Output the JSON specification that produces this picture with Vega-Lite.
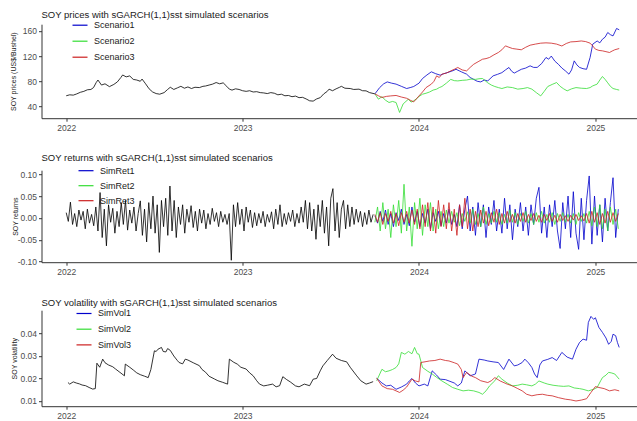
{
"$schema":"https://vega.github.io/schema/vega-lite/v6.json",
"padding":{"left":8.5,"top":9.2,"right":0,"bottom":5},
"background":"white",
"config":{"view":{"stroke":null},"font":"Liberation Sans",
"axis":{"grid":false,"domainColor":"#333333","tickColor":"#333333","tickSize":3,"labelColor":"#4d4d4d","labelFontSize":8.5,"labelPadding":2,"titleFontSize":7,"titleFontWeight":"normal","titleColor":"#1a1a1a","labelOverlap":false},
"title":{"fontSize":9.5,"fontWeight":"normal","anchor":"start","frame":"group","color":"#1a1a1a"},
"legend":{"orient":"none","title":null,"symbolType":"stroke","symbolSize":225,"symbolStrokeWidth":1.2,"labelFontSize":9,"labelColor":"#1a1a1a","labelOffset":5.5,"padding":0}},
"datasets":{
"ph":[{"t":2022.0,"v":57},{"t":2022.02,"v":58.5},{"t":2022.04,"v":58},{"t":2022.06,"v":60},{"t":2022.08,"v":62.5},{"t":2022.1,"v":64},{"t":2022.12,"v":66.5},{"t":2022.14,"v":67},{"t":2022.155,"v":70},{"t":2022.17,"v":78},{"t":2022.18,"v":82},{"t":2022.2,"v":74},{"t":2022.22,"v":76},{"t":2022.245,"v":71.5},{"t":2022.27,"v":75},{"t":2022.29,"v":79},{"t":2022.31,"v":86},{"t":2022.32,"v":90},{"t":2022.34,"v":87},{"t":2022.36,"v":88.5},{"t":2022.38,"v":83},{"t":2022.4,"v":82},{"t":2022.42,"v":80},{"t":2022.43,"v":83.5},{"t":2022.45,"v":76},{"t":2022.47,"v":68},{"t":2022.49,"v":63},{"t":2022.51,"v":60.5},{"t":2022.53,"v":59.5},{"t":2022.555,"v":62},{"t":2022.575,"v":67},{"t":2022.59,"v":70.5},{"t":2022.61,"v":67},{"t":2022.63,"v":69.5},{"t":2022.65,"v":72},{"t":2022.67,"v":69},{"t":2022.69,"v":71},{"t":2022.71,"v":68.5},{"t":2022.73,"v":70.5},{"t":2022.755,"v":70},{"t":2022.775,"v":72},{"t":2022.79,"v":72.5},{"t":2022.81,"v":74},{"t":2022.83,"v":75.5},{"t":2022.85,"v":78},{"t":2022.87,"v":76},{"t":2022.89,"v":77.5},{"t":2022.91,"v":72},{"t":2022.925,"v":67.5},{"t":2022.94,"v":66},{"t":2022.96,"v":68},{"t":2022.98,"v":67},{"t":2023.0,"v":65},{"t":2023.02,"v":64},{"t":2023.04,"v":65},{"t":2023.06,"v":63},{"t":2023.08,"v":63.5},{"t":2023.1,"v":62},{"t":2023.12,"v":61.5},{"t":2023.14,"v":60.5},{"t":2023.16,"v":62},{"t":2023.18,"v":61},{"t":2023.2,"v":58.5},{"t":2023.22,"v":59.5},{"t":2023.24,"v":57},{"t":2023.26,"v":57.5},{"t":2023.28,"v":55.5},{"t":2023.3,"v":56.5},{"t":2023.32,"v":54},{"t":2023.34,"v":54.5},{"t":2023.36,"v":52},{"t":2023.38,"v":49},{"t":2023.4,"v":48.5},{"t":2023.42,"v":52},{"t":2023.44,"v":54},{"t":2023.46,"v":60},{"t":2023.48,"v":64},{"t":2023.49,"v":67.5},{"t":2023.51,"v":65},{"t":2023.53,"v":68},{"t":2023.55,"v":70.5},{"t":2023.56,"v":72},{"t":2023.58,"v":69},{"t":2023.61,"v":68.5},{"t":2023.63,"v":67},{"t":2023.66,"v":67.5},{"t":2023.68,"v":65},{"t":2023.7,"v":64.8},{"t":2023.72,"v":62},{"t":2023.75,"v":60}],
"ps":[{"s":1,"t":2023.75,"v":60},{"s":1,"t":2023.777,"v":70},{"s":1,"t":2023.8,"v":76},{"s":1,"t":2023.82,"v":79},{"s":1,"t":2023.845,"v":77},{"s":1,"t":2023.87,"v":75.5},{"s":1,"t":2023.9,"v":72},{"s":1,"t":2023.93,"v":68.5},{"s":1,"t":2023.95,"v":70},{"s":1,"t":2023.97,"v":71.7},{"s":1,"t":2024.0,"v":77},{"s":1,"t":2024.02,"v":84.4},{"s":1,"t":2024.045,"v":90},{"s":1,"t":2024.07,"v":95},{"s":1,"t":2024.095,"v":92},{"s":1,"t":2024.12,"v":89.7},{"s":1,"t":2024.14,"v":92},{"s":1,"t":2024.16,"v":93.7},{"s":1,"t":2024.185,"v":96},{"s":1,"t":2024.21,"v":99},{"s":1,"t":2024.24,"v":95},{"s":1,"t":2024.27,"v":91.3},{"s":1,"t":2024.29,"v":86},{"s":1,"t":2024.31,"v":83},{"s":1,"t":2024.33,"v":80},{"s":1,"t":2024.35,"v":79},{"s":1,"t":2024.37,"v":82},{"s":1,"t":2024.39,"v":80.6},{"s":1,"t":2024.42,"v":88.6},{"s":1,"t":2024.445,"v":91},{"s":1,"t":2024.47,"v":93.7},{"s":1,"t":2024.49,"v":98},{"s":1,"t":2024.51,"v":101.9},{"s":1,"t":2024.525,"v":96},{"s":1,"t":2024.54,"v":93},{"s":1,"t":2024.56,"v":96},{"s":1,"t":2024.58,"v":99},{"s":1,"t":2024.605,"v":101},{"s":1,"t":2024.63,"v":104.5},{"s":1,"t":2024.65,"v":102},{"s":1,"t":2024.67,"v":102},{"s":1,"t":2024.695,"v":108},{"s":1,"t":2024.72,"v":117.8},{"s":1,"t":2024.735,"v":115},{"s":1,"t":2024.75,"v":120},{"s":1,"t":2024.77,"v":112},{"s":1,"t":2024.79,"v":107},{"s":1,"t":2024.81,"v":101},{"s":1,"t":2024.83,"v":96.5},{"s":1,"t":2024.85,"v":91.3},{"s":1,"t":2024.865,"v":98},{"s":1,"t":2024.88,"v":112.4},{"s":1,"t":2024.895,"v":106},{"s":1,"t":2024.91,"v":102},{"s":1,"t":2024.93,"v":100},{"s":1,"t":2024.95,"v":99},{"s":1,"t":2024.97,"v":117.8},{"s":1,"t":2024.985,"v":138.9},{"s":1,"t":2025.01,"v":144},{"s":1,"t":2025.025,"v":141},{"s":1,"t":2025.04,"v":146.8},{"s":1,"t":2025.055,"v":150},{"s":1,"t":2025.07,"v":157.4},{"s":1,"t":2025.085,"v":154},{"s":1,"t":2025.1,"v":152},{"s":1,"t":2025.12,"v":163.8},{"s":1,"t":2025.135,"v":161.7},
{"s":2,"t":2023.75,"v":60},{"s":2,"t":2023.77,"v":51.6},{"s":2,"t":2023.79,"v":55.5},{"s":2,"t":2023.81,"v":50},{"s":2,"t":2023.83,"v":46.3},{"s":2,"t":2023.85,"v":48},{"s":2,"t":2023.87,"v":46.3},{"s":2,"t":2023.89,"v":30.5},{"s":2,"t":2023.91,"v":44},{"s":2,"t":2023.94,"v":51.6},{"s":2,"t":2023.955,"v":47},{"s":2,"t":2023.97,"v":49},{"s":2,"t":2023.99,"v":52.9},{"s":2,"t":2024.0,"v":56},{"s":2,"t":2024.02,"v":59.5},{"s":2,"t":2024.04,"v":61},{"s":2,"t":2024.06,"v":63},{"s":2,"t":2024.08,"v":66},{"s":2,"t":2024.1,"v":67.5},{"s":2,"t":2024.115,"v":70},{"s":2,"t":2024.13,"v":71.7},{"s":2,"t":2024.155,"v":77},{"s":2,"t":2024.18,"v":83},{"s":2,"t":2024.2,"v":81},{"s":2,"t":2024.22,"v":80.6},{"s":2,"t":2024.245,"v":81.5},{"s":2,"t":2024.27,"v":82},{"s":2,"t":2024.295,"v":83.5},{"s":2,"t":2024.32,"v":83},{"s":2,"t":2024.34,"v":84},{"s":2,"t":2024.36,"v":84.4},{"s":2,"t":2024.375,"v":81},{"s":2,"t":2024.39,"v":77.5},{"s":2,"t":2024.41,"v":74},{"s":2,"t":2024.43,"v":71.7},{"s":2,"t":2024.45,"v":70},{"s":2,"t":2024.47,"v":68.5},{"s":2,"t":2024.5,"v":71},{"s":2,"t":2024.53,"v":70},{"s":2,"t":2024.56,"v":67.5},{"s":2,"t":2024.59,"v":68.5},{"s":2,"t":2024.615,"v":70},{"s":2,"t":2024.64,"v":67.5},{"s":2,"t":2024.665,"v":62},{"s":2,"t":2024.69,"v":56.8},{"s":2,"t":2024.71,"v":64},{"s":2,"t":2024.73,"v":71.7},{"s":2,"t":2024.755,"v":75},{"s":2,"t":2024.78,"v":78},{"s":2,"t":2024.8,"v":72},{"s":2,"t":2024.82,"v":68},{"s":2,"t":2024.84,"v":64.8},{"s":2,"t":2024.865,"v":68},{"s":2,"t":2024.89,"v":70},{"s":2,"t":2024.92,"v":69},{"s":2,"t":2024.95,"v":68.5},{"s":2,"t":2024.97,"v":70},{"s":2,"t":2024.985,"v":72.7},{"s":2,"t":2025.01,"v":75.5},{"s":2,"t":2025.025,"v":82},{"s":2,"t":2025.04,"v":87.6},{"s":2,"t":2025.055,"v":83},{"s":2,"t":2025.07,"v":77.5},{"s":2,"t":2025.085,"v":72},{"s":2,"t":2025.1,"v":68.5},{"s":2,"t":2025.12,"v":67},{"s":2,"t":2025.135,"v":66},
{"s":3,"t":2023.75,"v":60},{"s":3,"t":2023.77,"v":57},{"s":3,"t":2023.79,"v":54.3},{"s":3,"t":2023.815,"v":56},{"s":3,"t":2023.84,"v":56.8},{"s":3,"t":2023.87,"v":57.5},{"s":3,"t":2023.9,"v":55},{"s":3,"t":2023.93,"v":53},{"s":3,"t":2023.95,"v":50},{"s":3,"t":2023.97,"v":47.3},{"s":3,"t":2023.985,"v":52},{"s":3,"t":2024.0,"v":56.8},{"s":3,"t":2024.02,"v":63},{"s":3,"t":2024.04,"v":70},{"s":3,"t":2024.07,"v":75.5},{"s":3,"t":2024.085,"v":80},{"s":3,"t":2024.1,"v":88.6},{"s":3,"t":2024.115,"v":86},{"s":3,"t":2024.13,"v":91.3},{"s":3,"t":2024.155,"v":93},{"s":3,"t":2024.18,"v":96.5},{"s":3,"t":2024.2,"v":99},{"s":3,"t":2024.22,"v":101.9},{"s":3,"t":2024.245,"v":98},{"s":3,"t":2024.27,"v":96.5},{"s":3,"t":2024.29,"v":102},{"s":3,"t":2024.31,"v":107},{"s":3,"t":2024.335,"v":111},{"s":3,"t":2024.36,"v":115},{"s":3,"t":2024.38,"v":116},{"s":3,"t":2024.4,"v":117.8},{"s":3,"t":2024.425,"v":122},{"s":3,"t":2024.45,"v":125.7},{"s":3,"t":2024.47,"v":130},{"s":3,"t":2024.49,"v":136.2},{"s":3,"t":2024.51,"v":134},{"s":3,"t":2024.53,"v":132},{"s":3,"t":2024.555,"v":131},{"s":3,"t":2024.58,"v":130},{"s":3,"t":2024.605,"v":134},{"s":3,"t":2024.63,"v":137.3},{"s":3,"t":2024.66,"v":139},{"s":3,"t":2024.69,"v":140.5},{"s":3,"t":2024.72,"v":141},{"s":3,"t":2024.75,"v":140.5},{"s":3,"t":2024.78,"v":139},{"s":3,"t":2024.81,"v":136},{"s":3,"t":2024.835,"v":140},{"s":3,"t":2024.86,"v":142.5},{"s":3,"t":2024.89,"v":143},{"s":3,"t":2024.92,"v":144},{"s":3,"t":2024.945,"v":143},{"s":3,"t":2024.97,"v":140.5},{"s":3,"t":2024.985,"v":136},{"s":3,"t":2025.0,"v":131},{"s":3,"t":2025.02,"v":129},{"s":3,"t":2025.04,"v":128.3},{"s":3,"t":2025.06,"v":127},{"s":3,"t":2025.08,"v":125.7},{"s":3,"t":2025.095,"v":128},{"s":3,"t":2025.11,"v":130},{"s":3,"t":2025.135,"v":132}],
"rh":[{"t":2022.0,"v":0.012},{"t":2022.012,"v":-0.008},{"t":2022.024,"v":0.036},{"t":2022.036,"v":-0.015},{"t":2022.048,"v":0.01},{"t":2022.06,"v":-0.02},{"t":2022.072,"v":0.018},{"t":2022.084,"v":-0.005},{"t":2022.096,"v":0.015},{"t":2022.108,"v":-0.025},{"t":2022.12,"v":0.02},{"t":2022.132,"v":-0.012},{"t":2022.144,"v":0.008},{"t":2022.156,"v":-0.018},{"t":2022.168,"v":0.025},{"t":2022.18,"v":-0.03},{"t":2022.192,"v":0.058},{"t":2022.204,"v":-0.045},{"t":2022.216,"v":0.02},{"t":2022.228,"v":-0.064},{"t":2022.24,"v":0.03},{"t":2022.252,"v":-0.01},{"t":2022.264,"v":0.022},{"t":2022.276,"v":-0.035},{"t":2022.288,"v":0.015},{"t":2022.3,"v":-0.02},{"t":2022.312,"v":0.035},{"t":2022.324,"v":-0.015},{"t":2022.336,"v":0.04},{"t":2022.348,"v":-0.028},{"t":2022.36,"v":0.018},{"t":2022.372,"v":-0.012},{"t":2022.384,"v":0.025},{"t":2022.396,"v":-0.03},{"t":2022.408,"v":0.01},{"t":2022.42,"v":0.039},{"t":2022.432,"v":-0.04},{"t":2022.444,"v":0.02},{"t":2022.456,"v":-0.055},{"t":2022.468,"v":0.035},{"t":2022.48,"v":-0.025},{"t":2022.492,"v":0.05},{"t":2022.504,"v":-0.035},{"t":2022.516,"v":0.03},{"t":2022.528,"v":-0.079},{"t":2022.54,"v":0.04},{"t":2022.552,"v":-0.02},{"t":2022.564,"v":0.045},{"t":2022.576,"v":-0.04},{"t":2022.588,"v":0.073},{"t":2022.6,"v":-0.03},{"t":2022.612,"v":0.04},{"t":2022.624,"v":-0.045},{"t":2022.636,"v":0.025},{"t":2022.648,"v":-0.015},{"t":2022.66,"v":0.03},{"t":2022.672,"v":-0.035},{"t":2022.684,"v":0.02},{"t":2022.696,"v":-0.01},{"t":2022.708,"v":0.028},{"t":2022.72,"v":-0.022},{"t":2022.732,"v":0.015},{"t":2022.744,"v":-0.03},{"t":2022.756,"v":0.02},{"t":2022.768,"v":-0.012},{"t":2022.78,"v":0.018},{"t":2022.792,"v":-0.025},{"t":2022.804,"v":0.01},{"t":2022.816,"v":-0.015},{"t":2022.828,"v":0.022},{"t":2022.84,"v":-0.008},{"t":2022.852,"v":0.012},{"t":2022.864,"v":-0.02},{"t":2022.876,"v":0.015},{"t":2022.888,"v":-0.01},{"t":2022.9,"v":0.008},{"t":2022.912,"v":-0.015},{"t":2022.924,"v":0.01},{"t":2022.936,"v":-0.097},{"t":2022.948,"v":0.03},{"t":2022.96,"v":-0.02},{"t":2022.972,"v":0.035},{"t":2022.984,"v":-0.015},{"t":2022.996,"v":0.02},{"t":2023.008,"v":-0.03},{"t":2023.02,"v":0.025},{"t":2023.032,"v":-0.01},{"t":2023.044,"v":0.018},{"t":2023.056,"v":-0.022},{"t":2023.068,"v":0.012},{"t":2023.08,"v":-0.018},{"t":2023.092,"v":0.01},{"t":2023.104,"v":-0.012},{"t":2023.116,"v":0.015},{"t":2023.128,"v":-0.02},{"t":2023.14,"v":0.008},{"t":2023.152,"v":-0.01},{"t":2023.164,"v":0.014},{"t":2023.176,"v":-0.025},{"t":2023.188,"v":0.02},{"t":2023.2,"v":-0.015},{"t":2023.212,"v":0.03},{"t":2023.224,"v":-0.02},{"t":2023.236,"v":0.01},{"t":2023.248,"v":-0.015},{"t":2023.26,"v":0.012},{"t":2023.272,"v":-0.008},{"t":2023.284,"v":0.018},{"t":2023.296,"v":-0.02},{"t":2023.308,"v":0.01},{"t":2023.32,"v":-0.012},{"t":2023.332,"v":0.025},{"t":2023.344,"v":-0.01},{"t":2023.356,"v":0.04},{"t":2023.368,"v":-0.025},{"t":2023.38,"v":0.035},{"t":2023.392,"v":-0.03},{"t":2023.404,"v":0.02},{"t":2023.416,"v":-0.049},{"t":2023.428,"v":0.03},{"t":2023.44,"v":-0.02},{"t":2023.452,"v":0.04},{"t":2023.464,"v":-0.035},{"t":2023.476,"v":0.025},{"t":2023.488,"v":-0.064},{"t":2023.5,"v":0.045},{"t":2023.512,"v":0.067},{"t":2023.524,"v":-0.03},{"t":2023.536,"v":0.035},{"t":2023.548,"v":-0.045},{"t":2023.56,"v":0.02},{"t":2023.572,"v":0.04},{"t":2023.584,"v":-0.025},{"t":2023.596,"v":0.03},{"t":2023.608,"v":-0.02},{"t":2023.62,"v":0.025},{"t":2023.632,"v":-0.015},{"t":2023.644,"v":0.02},{"t":2023.656,"v":-0.01},{"t":2023.668,"v":0.015},{"t":2023.68,"v":-0.02},{"t":2023.692,"v":0.012},{"t":2023.704,"v":-0.015},{"t":2023.716,"v":0.018},{"t":2023.728,"v":-0.01},{"t":2023.74,"v":0.008}],
"rs":[{"s":1,"t":2023.75,"v":0.005},{"s":1,"t":2023.765,"v":-0.012},{"s":1,"t":2023.78,"v":0.015},{"s":1,"t":2023.795,"v":-0.008},{"s":1,"t":2023.81,"v":0.018},{"s":1,"t":2023.825,"v":-0.015},{"s":1,"t":2023.84,"v":0.01},{"s":1,"t":2023.855,"v":-0.02},{"s":1,"t":2023.87,"v":0.012},{"s":1,"t":2023.885,"v":-0.006},{"s":1,"t":2023.9,"v":0.02},{"s":1,"t":2023.915,"v":-0.015},{"s":1,"t":2023.93,"v":0.008},{"s":1,"t":2023.945,"v":-0.018},{"s":1,"t":2023.96,"v":0.025},{"s":1,"t":2023.975,"v":-0.01},{"s":1,"t":2023.99,"v":0.015},{"s":1,"t":2024.005,"v":-0.02},{"s":1,"t":2024.02,"v":0.01},{"s":1,"t":2024.035,"v":-0.012},{"s":1,"t":2024.05,"v":0.02},{"s":1,"t":2024.065,"v":-0.025},{"s":1,"t":2024.08,"v":0.012},{"s":1,"t":2024.095,"v":-0.008},{"s":1,"t":2024.11,"v":0.015},{"s":1,"t":2024.125,"v":-0.018},{"s":1,"t":2024.14,"v":0.01},{"s":1,"t":2024.155,"v":-0.012},{"s":1,"t":2024.17,"v":0.02},{"s":1,"t":2024.185,"v":-0.015},{"s":1,"t":2024.2,"v":0.008},{"s":1,"t":2024.215,"v":-0.02},{"s":1,"t":2024.23,"v":0.03},{"s":1,"t":2024.245,"v":-0.025},{"s":1,"t":2024.26,"v":0.02},{"s":1,"t":2024.275,"v":0.05},{"s":1,"t":2024.29,"v":-0.03},{"s":1,"t":2024.305,"v":0.025},{"s":1,"t":2024.32,"v":-0.04},{"s":1,"t":2024.335,"v":0.035},{"s":1,"t":2024.35,"v":-0.02},{"s":1,"t":2024.365,"v":0.03},{"s":1,"t":2024.38,"v":-0.045},{"s":1,"t":2024.395,"v":0.025},{"s":1,"t":2024.41,"v":-0.015},{"s":1,"t":2024.425,"v":0.04},{"s":1,"t":2024.44,"v":-0.03},{"s":1,"t":2024.455,"v":0.02},{"s":1,"t":2024.47,"v":-0.035},{"s":1,"t":2024.485,"v":0.045},{"s":1,"t":2024.5,"v":-0.025},{"s":1,"t":2024.515,"v":0.03},{"s":1,"t":2024.53,"v":-0.05},{"s":1,"t":2024.545,"v":0.02},{"s":1,"t":2024.56,"v":-0.02},{"s":1,"t":2024.575,"v":0.035},{"s":1,"t":2024.59,"v":-0.03},{"s":1,"t":2024.605,"v":0.025},{"s":1,"t":2024.62,"v":-0.04},{"s":1,"t":2024.635,"v":0.03},{"s":1,"t":2024.65,"v":-0.015},{"s":1,"t":2024.665,"v":0.045},{"s":1,"t":2024.68,"v":0.07},{"s":1,"t":2024.695,"v":-0.035},{"s":1,"t":2024.71,"v":0.025},{"s":1,"t":2024.725,"v":-0.045},{"s":1,"t":2024.74,"v":0.03},{"s":1,"t":2024.755,"v":-0.02},{"s":1,"t":2024.77,"v":0.04},{"s":1,"t":2024.785,"v":-0.03},{"s":1,"t":2024.8,"v":-0.07},{"s":1,"t":2024.815,"v":0.035},{"s":1,"t":2024.83,"v":-0.025},{"s":1,"t":2024.845,"v":0.05},{"s":1,"t":2024.86,"v":-0.045},{"s":1,"t":2024.875,"v":0.06},{"s":1,"t":2024.89,"v":-0.035},{"s":1,"t":2024.905,"v":-0.072},{"s":1,"t":2024.92,"v":0.045},{"s":1,"t":2024.935,"v":-0.05},{"s":1,"t":2024.95,"v":0.04},{"s":1,"t":2024.965,"v":0.096},{"s":1,"t":2024.98,"v":-0.06},{"s":1,"t":2024.995,"v":0.05},{"s":1,"t":2025.01,"v":-0.04},{"s":1,"t":2025.025,"v":0.03},{"s":1,"t":2025.04,"v":-0.055},{"s":1,"t":2025.055,"v":0.045},{"s":1,"t":2025.07,"v":-0.03},{"s":1,"t":2025.085,"v":0.035},{"s":1,"t":2025.1,"v":0.092},{"s":1,"t":2025.115,"v":-0.045},{"s":1,"t":2025.13,"v":0.02},
{"s":2,"t":2023.75,"v":-0.01},{"s":2,"t":2023.765,"v":0.025},{"s":2,"t":2023.78,"v":-0.03},{"s":2,"t":2023.795,"v":0.035},{"s":2,"t":2023.81,"v":-0.025},{"s":2,"t":2023.825,"v":0.02},{"s":2,"t":2023.84,"v":-0.045},{"s":2,"t":2023.855,"v":0.03},{"s":2,"t":2023.87,"v":-0.02},{"s":2,"t":2023.885,"v":0.04},{"s":2,"t":2023.9,"v":-0.035},{"s":2,"t":2023.915,"v":0.077},{"s":2,"t":2023.93,"v":-0.03},{"s":2,"t":2023.945,"v":0.025},{"s":2,"t":2023.96,"v":-0.065},{"s":2,"t":2023.975,"v":0.035},{"s":2,"t":2023.99,"v":-0.025},{"s":2,"t":2024.005,"v":0.045},{"s":2,"t":2024.02,"v":-0.04},{"s":2,"t":2024.035,"v":0.03},{"s":2,"t":2024.05,"v":-0.02},{"s":2,"t":2024.065,"v":0.035},{"s":2,"t":2024.08,"v":-0.03},{"s":2,"t":2024.095,"v":0.02},{"s":2,"t":2024.11,"v":-0.025},{"s":2,"t":2024.125,"v":0.015},{"s":2,"t":2024.14,"v":-0.02},{"s":2,"t":2024.155,"v":0.018},{"s":2,"t":2024.17,"v":-0.012},{"s":2,"t":2024.185,"v":0.015},{"s":2,"t":2024.2,"v":-0.01},{"s":2,"t":2024.215,"v":0.012},{"s":2,"t":2024.23,"v":-0.018},{"s":2,"t":2024.245,"v":0.01},{"s":2,"t":2024.26,"v":-0.008},{"s":2,"t":2024.275,"v":0.014},{"s":2,"t":2024.29,"v":-0.012},{"s":2,"t":2024.305,"v":0.02},{"s":2,"t":2024.32,"v":-0.015},{"s":2,"t":2024.335,"v":0.01},{"s":2,"t":2024.35,"v":-0.02},{"s":2,"t":2024.365,"v":0.025},{"s":2,"t":2024.38,"v":-0.015},{"s":2,"t":2024.395,"v":0.01},{"s":2,"t":2024.41,"v":-0.012},{"s":2,"t":2024.425,"v":0.015},{"s":2,"t":2024.44,"v":-0.01},{"s":2,"t":2024.455,"v":0.012},{"s":2,"t":2024.47,"v":-0.015},{"s":2,"t":2024.485,"v":0.008},{"s":2,"t":2024.5,"v":-0.012},{"s":2,"t":2024.515,"v":0.018},{"s":2,"t":2024.53,"v":-0.01},{"s":2,"t":2024.545,"v":0.012},{"s":2,"t":2024.56,"v":-0.015},{"s":2,"t":2024.575,"v":0.01},{"s":2,"t":2024.59,"v":-0.008},{"s":2,"t":2024.605,"v":0.015},{"s":2,"t":2024.62,"v":-0.012},{"s":2,"t":2024.635,"v":0.01},{"s":2,"t":2024.65,"v":-0.015},{"s":2,"t":2024.665,"v":0.012},{"s":2,"t":2024.68,"v":-0.01},{"s":2,"t":2024.695,"v":0.015},{"s":2,"t":2024.71,"v":-0.012},{"s":2,"t":2024.725,"v":0.008},{"s":2,"t":2024.74,"v":-0.01},{"s":2,"t":2024.755,"v":0.012},{"s":2,"t":2024.77,"v":-0.015},{"s":2,"t":2024.785,"v":0.01},{"s":2,"t":2024.8,"v":-0.008},{"s":2,"t":2024.815,"v":0.012},{"s":2,"t":2024.83,"v":-0.01},{"s":2,"t":2024.845,"v":0.008},{"s":2,"t":2024.86,"v":-0.012},{"s":2,"t":2024.875,"v":0.01},{"s":2,"t":2024.89,"v":-0.015},{"s":2,"t":2024.905,"v":0.012},{"s":2,"t":2024.92,"v":-0.008},{"s":2,"t":2024.935,"v":0.01},{"s":2,"t":2024.95,"v":-0.012},{"s":2,"t":2024.965,"v":0.015},{"s":2,"t":2024.98,"v":-0.018},{"s":2,"t":2024.995,"v":0.025},{"s":2,"t":2025.01,"v":-0.02},{"s":2,"t":2025.025,"v":0.03},{"s":2,"t":2025.04,"v":-0.025},{"s":2,"t":2025.055,"v":0.02},{"s":2,"t":2025.07,"v":-0.03},{"s":2,"t":2025.085,"v":0.025},{"s":2,"t":2025.1,"v":-0.015},{"s":2,"t":2025.115,"v":0.02},{"s":2,"t":2025.13,"v":-0.025},
{"s":3,"t":2023.75,"v":0.008},{"s":3,"t":2023.765,"v":-0.01},{"s":3,"t":2023.78,"v":0.012},{"s":3,"t":2023.795,"v":-0.015},{"s":3,"t":2023.81,"v":0.01},{"s":3,"t":2023.825,"v":-0.008},{"s":3,"t":2023.84,"v":0.015},{"s":3,"t":2023.855,"v":-0.012},{"s":3,"t":2023.87,"v":0.01},{"s":3,"t":2023.885,"v":-0.018},{"s":3,"t":2023.9,"v":0.012},{"s":3,"t":2023.915,"v":-0.01},{"s":3,"t":2023.93,"v":0.015},{"s":3,"t":2023.945,"v":-0.012},{"s":3,"t":2023.96,"v":0.018},{"s":3,"t":2023.975,"v":-0.015},{"s":3,"t":2023.99,"v":0.02},{"s":3,"t":2024.005,"v":-0.025},{"s":3,"t":2024.02,"v":0.03},{"s":3,"t":2024.035,"v":-0.02},{"s":3,"t":2024.05,"v":0.035},{"s":3,"t":2024.065,"v":-0.03},{"s":3,"t":2024.08,"v":0.025},{"s":3,"t":2024.095,"v":-0.035},{"s":3,"t":2024.11,"v":0.04},{"s":3,"t":2024.125,"v":-0.02},{"s":3,"t":2024.14,"v":0.03},{"s":3,"t":2024.155,"v":-0.025},{"s":3,"t":2024.17,"v":0.035},{"s":3,"t":2024.185,"v":-0.03},{"s":3,"t":2024.2,"v":0.02},{"s":3,"t":2024.215,"v":-0.04},{"s":3,"t":2024.23,"v":0.03},{"s":3,"t":2024.245,"v":-0.02},{"s":3,"t":2024.26,"v":0.045},{"s":3,"t":2024.275,"v":-0.025},{"s":3,"t":2024.29,"v":0.02},{"s":3,"t":2024.305,"v":-0.03},{"s":3,"t":2024.32,"v":0.015},{"s":3,"t":2024.335,"v":-0.02},{"s":3,"t":2024.35,"v":0.018},{"s":3,"t":2024.365,"v":-0.012},{"s":3,"t":2024.38,"v":0.015},{"s":3,"t":2024.395,"v":-0.018},{"s":3,"t":2024.41,"v":0.012},{"s":3,"t":2024.425,"v":-0.01},{"s":3,"t":2024.44,"v":0.02},{"s":3,"t":2024.455,"v":-0.015},{"s":3,"t":2024.47,"v":0.01},{"s":3,"t":2024.485,"v":-0.012},{"s":3,"t":2024.5,"v":0.015},{"s":3,"t":2024.515,"v":-0.01},{"s":3,"t":2024.53,"v":0.008},{"s":3,"t":2024.545,"v":-0.012},{"s":3,"t":2024.56,"v":0.01},{"s":3,"t":2024.575,"v":-0.008},{"s":3,"t":2024.59,"v":0.012},{"s":3,"t":2024.605,"v":-0.01},{"s":3,"t":2024.62,"v":0.008},{"s":3,"t":2024.635,"v":-0.006},{"s":3,"t":2024.65,"v":0.01},{"s":3,"t":2024.665,"v":-0.008},{"s":3,"t":2024.68,"v":0.006},{"s":3,"t":2024.695,"v":-0.01},{"s":3,"t":2024.71,"v":0.008},{"s":3,"t":2024.725,"v":-0.006},{"s":3,"t":2024.74,"v":0.01},{"s":3,"t":2024.755,"v":-0.008},{"s":3,"t":2024.77,"v":0.006},{"s":3,"t":2024.785,"v":-0.01},{"s":3,"t":2024.8,"v":0.008},{"s":3,"t":2024.815,"v":-0.006},{"s":3,"t":2024.83,"v":0.005},{"s":3,"t":2024.845,"v":-0.008},{"s":3,"t":2024.86,"v":0.006},{"s":3,"t":2024.875,"v":-0.005},{"s":3,"t":2024.89,"v":0.008},{"s":3,"t":2024.905,"v":-0.006},{"s":3,"t":2024.92,"v":0.005},{"s":3,"t":2024.935,"v":-0.007},{"s":3,"t":2024.95,"v":0.01},{"s":3,"t":2024.965,"v":-0.012},{"s":3,"t":2024.98,"v":0.015},{"s":3,"t":2024.995,"v":-0.01},{"s":3,"t":2025.01,"v":0.012},{"s":3,"t":2025.025,"v":-0.015},{"s":3,"t":2025.04,"v":0.01},{"s":3,"t":2025.055,"v":-0.012},{"s":3,"t":2025.07,"v":0.015},{"s":3,"t":2025.085,"v":-0.01},{"s":3,"t":2025.1,"v":0.012},{"s":3,"t":2025.115,"v":-0.008},{"s":3,"t":2025.13,"v":0.01}],
"vh":[{"t":2022.01,"v":0.0182},{"t":2022.02,"v":0.0175},{"t":2022.04,"v":0.0185},{"t":2022.057,"v":0.018},{"t":2022.075,"v":0.0176},{"t":2022.09,"v":0.0171},{"t":2022.11,"v":0.0168},{"t":2022.13,"v":0.016},{"t":2022.15,"v":0.0153},{"t":2022.165,"v":0.0155},{"t":2022.174,"v":0.0268},{"t":2022.19,"v":0.025},{"t":2022.207,"v":0.0286},{"t":2022.22,"v":0.027},{"t":2022.24,"v":0.026},{"t":2022.264,"v":0.0252},{"t":2022.28,"v":0.0242},{"t":2022.3,"v":0.023},{"t":2022.33,"v":0.0212},{"t":2022.335,"v":0.0264},{"t":2022.36,"v":0.025},{"t":2022.38,"v":0.0238},{"t":2022.4,"v":0.0225},{"t":2022.42,"v":0.0217},{"t":2022.445,"v":0.021},{"t":2022.465,"v":0.0204},{"t":2022.48,"v":0.024},{"t":2022.5,"v":0.0323},{"t":2022.51,"v":0.032},{"t":2022.52,"v":0.033},{"t":2022.54,"v":0.0338},{"t":2022.55,"v":0.032},{"t":2022.565,"v":0.0318},{"t":2022.575,"v":0.0333},{"t":2022.59,"v":0.0325},{"t":2022.61,"v":0.03},{"t":2022.63,"v":0.028},{"t":2022.64,"v":0.0271},{"t":2022.66,"v":0.0265},{"t":2022.675,"v":0.0286},{"t":2022.69,"v":0.0282},{"t":2022.72,"v":0.027},{"t":2022.755,"v":0.0257},{"t":2022.77,"v":0.024},{"t":2022.79,"v":0.0228},{"t":2022.81,"v":0.021},{"t":2022.84,"v":0.0198},{"t":2022.86,"v":0.019},{"t":2022.887,"v":0.0183},{"t":2022.915,"v":0.0175},{"t":2022.925,"v":0.0286},{"t":2022.95,"v":0.0272},{"t":2022.97,"v":0.0264},{"t":2022.99,"v":0.025},{"t":2023.02,"v":0.0242},{"t":2023.04,"v":0.0225},{"t":2023.06,"v":0.0212},{"t":2023.08,"v":0.019},{"t":2023.096,"v":0.0175},{"t":2023.12,"v":0.0167},{"t":2023.14,"v":0.017},{"t":2023.17,"v":0.0175},{"t":2023.19,"v":0.0163},{"t":2023.21,"v":0.0168},{"t":2023.228,"v":0.0208},{"t":2023.25,"v":0.0195},{"t":2023.27,"v":0.0185},{"t":2023.3,"v":0.0167},{"t":2023.32,"v":0.0163},{"t":2023.35,"v":0.0175},{"t":2023.38,"v":0.0168},{"t":2023.4,"v":0.0197},{"t":2023.42,"v":0.02},{"t":2023.44,"v":0.0234},{"t":2023.455,"v":0.0256},{"t":2023.48,"v":0.028},{"t":2023.51,"v":0.0308},{"t":2023.53,"v":0.029},{"t":2023.56,"v":0.028},{"t":2023.59,"v":0.0274},{"t":2023.61,"v":0.025},{"t":2023.644,"v":0.0215},{"t":2023.67,"v":0.019},{"t":2023.7,"v":0.0175},{"t":2023.72,"v":0.018},{"t":2023.74,"v":0.0186}],
"vs":[{"s":1,"t":2023.76,"v":0.0201},{"s":1,"t":2023.79,"v":0.018},{"s":1,"t":2023.815,"v":0.0167},{"s":1,"t":2023.84,"v":0.017},{"s":1,"t":2023.87,"v":0.0152},{"s":1,"t":2023.9,"v":0.0162},{"s":1,"t":2023.93,"v":0.0175},{"s":1,"t":2023.945,"v":0.0189},{"s":1,"t":2023.96,"v":0.02},{"s":1,"t":2023.98,"v":0.018},{"s":1,"t":2024.0,"v":0.0167},{"s":1,"t":2024.03,"v":0.0175},{"s":1,"t":2024.05,"v":0.0167},{"s":1,"t":2024.075,"v":0.0234},{"s":1,"t":2024.1,"v":0.0215},{"s":1,"t":2024.12,"v":0.0197},{"s":1,"t":2024.15,"v":0.0195},{"s":1,"t":2024.17,"v":0.0189},{"s":1,"t":2024.2,"v":0.018},{"s":1,"t":2024.22,"v":0.0167},{"s":1,"t":2024.24,"v":0.018},{"s":1,"t":2024.26,"v":0.0234},{"s":1,"t":2024.29,"v":0.0212},{"s":1,"t":2024.32,"v":0.022},{"s":1,"t":2024.34,"v":0.0286},{"s":1,"t":2024.37,"v":0.0282},{"s":1,"t":2024.39,"v":0.0278},{"s":1,"t":2024.42,"v":0.0274},{"s":1,"t":2024.45,"v":0.0271},{"s":1,"t":2024.48,"v":0.024},{"s":1,"t":2024.51,"v":0.0286},{"s":1,"t":2024.54,"v":0.0256},{"s":1,"t":2024.56,"v":0.026},{"s":1,"t":2024.585,"v":0.0271},{"s":1,"t":2024.6,"v":0.0286},{"s":1,"t":2024.62,"v":0.027},{"s":1,"t":2024.64,"v":0.0249},{"s":1,"t":2024.655,"v":0.022},{"s":1,"t":2024.67,"v":0.0204},{"s":1,"t":2024.685,"v":0.026},{"s":1,"t":2024.7,"v":0.0278},{"s":1,"t":2024.73,"v":0.0285},{"s":1,"t":2024.755,"v":0.0293},{"s":1,"t":2024.78,"v":0.028},{"s":1,"t":2024.81,"v":0.0316},{"s":1,"t":2024.84,"v":0.0295},{"s":1,"t":2024.87,"v":0.0286},{"s":1,"t":2024.89,"v":0.033},{"s":1,"t":2024.91,"v":0.036},{"s":1,"t":2024.93,"v":0.0375},{"s":1,"t":2024.95,"v":0.037},{"s":1,"t":2024.96,"v":0.0449},{"s":1,"t":2024.975,"v":0.0476},{"s":1,"t":2024.99,"v":0.0463},{"s":1,"t":2025.0,"v":0.047},{"s":1,"t":2025.02,"v":0.0427},{"s":1,"t":2025.04,"v":0.0405},{"s":1,"t":2025.06,"v":0.038},{"s":1,"t":2025.075,"v":0.0352},{"s":1,"t":2025.09,"v":0.0365},{"s":1,"t":2025.1,"v":0.0397},{"s":1,"t":2025.115,"v":0.039},{"s":1,"t":2025.125,"v":0.036},{"s":1,"t":2025.135,"v":0.0338},
{"s":2,"t":2023.76,"v":0.019},{"s":2,"t":2023.79,"v":0.0241},{"s":2,"t":2023.81,"v":0.023},{"s":2,"t":2023.83,"v":0.0234},{"s":2,"t":2023.85,"v":0.024},{"s":2,"t":2023.87,"v":0.0249},{"s":2,"t":2023.885,"v":0.0265},{"s":2,"t":2023.9,"v":0.0316},{"s":2,"t":2023.92,"v":0.0308},{"s":2,"t":2023.94,"v":0.032},{"s":2,"t":2023.96,"v":0.031},{"s":2,"t":2023.975,"v":0.0338},{"s":2,"t":2023.99,"v":0.031},{"s":2,"t":2024.0,"v":0.0308},{"s":2,"t":2024.02,"v":0.0249},{"s":2,"t":2024.05,"v":0.0232},{"s":2,"t":2024.075,"v":0.022},{"s":2,"t":2024.1,"v":0.0205},{"s":2,"t":2024.13,"v":0.0189},{"s":2,"t":2024.16,"v":0.0175},{"s":2,"t":2024.19,"v":0.016},{"s":2,"t":2024.22,"v":0.0152},{"s":2,"t":2024.25,"v":0.0145},{"s":2,"t":2024.28,"v":0.0148},{"s":2,"t":2024.31,"v":0.0145},{"s":2,"t":2024.34,"v":0.0138},{"s":2,"t":2024.36,"v":0.013},{"s":2,"t":2024.38,"v":0.0145},{"s":2,"t":2024.4,"v":0.0167},{"s":2,"t":2024.43,"v":0.019},{"s":2,"t":2024.45,"v":0.0212},{"s":2,"t":2024.47,"v":0.0197},{"s":2,"t":2024.5,"v":0.018},{"s":2,"t":2024.53,"v":0.0167},{"s":2,"t":2024.56,"v":0.017},{"s":2,"t":2024.585,"v":0.0175},{"s":2,"t":2024.61,"v":0.0172},{"s":2,"t":2024.64,"v":0.0167},{"s":2,"t":2024.66,"v":0.0175},{"s":2,"t":2024.68,"v":0.0189},{"s":2,"t":2024.71,"v":0.018},{"s":2,"t":2024.73,"v":0.0175},{"s":2,"t":2024.76,"v":0.017},{"s":2,"t":2024.79,"v":0.0167},{"s":2,"t":2024.82,"v":0.0165},{"s":2,"t":2024.85,"v":0.0167},{"s":2,"t":2024.88,"v":0.0158},{"s":2,"t":2024.91,"v":0.0155},{"s":2,"t":2024.93,"v":0.0152},{"s":2,"t":2024.96,"v":0.0145},{"s":2,"t":2024.99,"v":0.0152},{"s":2,"t":2025.01,"v":0.016},{"s":2,"t":2025.03,"v":0.019},{"s":2,"t":2025.04,"v":0.0204},{"s":2,"t":2025.06,"v":0.0215},{"s":2,"t":2025.075,"v":0.0227},{"s":2,"t":2025.09,"v":0.0225},{"s":2,"t":2025.11,"v":0.022},{"s":2,"t":2025.135,"v":0.0197},
{"s":3,"t":2023.76,"v":0.0201},{"s":3,"t":2023.79,"v":0.0167},{"s":3,"t":2023.82,"v":0.0155},{"s":3,"t":2023.85,"v":0.0152},{"s":3,"t":2023.87,"v":0.0145},{"s":3,"t":2023.89,"v":0.0138},{"s":3,"t":2023.91,"v":0.0148},{"s":3,"t":2023.93,"v":0.0162},{"s":3,"t":2023.96,"v":0.0197},{"s":3,"t":2023.98,"v":0.0189},{"s":3,"t":2024.0,"v":0.0185},{"s":3,"t":2024.01,"v":0.0271},{"s":3,"t":2024.04,"v":0.0275},{"s":3,"t":2024.06,"v":0.0278},{"s":3,"t":2024.09,"v":0.028},{"s":3,"t":2024.12,"v":0.0286},{"s":3,"t":2024.15,"v":0.028},{"s":3,"t":2024.17,"v":0.0278},{"s":3,"t":2024.2,"v":0.027},{"s":3,"t":2024.22,"v":0.0264},{"s":3,"t":2024.24,"v":0.024},{"s":3,"t":2024.25,"v":0.0204},{"s":3,"t":2024.27,"v":0.0227},{"s":3,"t":2024.3,"v":0.021},{"s":3,"t":2024.32,"v":0.0204},{"s":3,"t":2024.35,"v":0.019},{"s":3,"t":2024.39,"v":0.0182},{"s":3,"t":2024.41,"v":0.019},{"s":3,"t":2024.43,"v":0.0204},{"s":3,"t":2024.46,"v":0.0189},{"s":3,"t":2024.5,"v":0.0175},{"s":3,"t":2024.53,"v":0.0167},{"s":3,"t":2024.56,"v":0.0155},{"s":3,"t":2024.585,"v":0.0145},{"s":3,"t":2024.61,"v":0.013},{"s":3,"t":2024.64,"v":0.0123},{"s":3,"t":2024.67,"v":0.0128},{"s":3,"t":2024.7,"v":0.013},{"s":3,"t":2024.73,"v":0.0125},{"s":3,"t":2024.755,"v":0.0123},{"s":3,"t":2024.79,"v":0.0115},{"s":3,"t":2024.83,"v":0.0108},{"s":3,"t":2024.86,"v":0.0105},{"s":3,"t":2024.89,"v":0.01},{"s":3,"t":2024.92,"v":0.0104},{"s":3,"t":2024.95,"v":0.011},{"s":3,"t":2024.975,"v":0.0138},{"s":3,"t":2025.0,"v":0.0164},{"s":3,"t":2025.02,"v":0.016},{"s":3,"t":2025.05,"v":0.0155},{"s":3,"t":2025.08,"v":0.0145},{"s":3,"t":2025.11,"v":0.015},{"s":3,"t":2025.135,"v":0.0145}]
},
"resolve":{"scale":{"color":"independent"},"legend":{"color":"independent"}},
"bounds":"flush",
"spacing":52,
"vconcat":[
{"width":595,"height":94,
"title":{"text":"SOY prices with sGARCH(1,1)sst simulated scenarios","offset":-2.7},
"layer":[
{"data":{"name":"ph"},"mark":{"type":"line","color":"#000000","strokeWidth":0.8},
"encoding":{"x":{"field":"t","type":"quantitative","scale":{"domain":[2021.86,2025.233],"nice":false,"zero":false},"axis":{"values":[2022,2023,2024,2025],"tickCount":10,"format":"d","title":null}},
"y":{"field":"v","type":"quantitative","scale":{"domain":[21.4,170.6],"nice":false,"zero":false},"axis":{"values":[40,80,120,160],"tickCount":10,"title":"SOY prices (US$/Bushel)","titleX":-28,"titleBaseline":"middle"}}}},
{"data":{"name":"ps"},"mark":{"type":"line","strokeWidth":0.8},
"encoding":{"x":{"field":"t","type":"quantitative"},"y":{"field":"v","type":"quantitative"},
"color":{"field":"s","type":"nominal","scale":{"domain":[1,2,3],"range":["#0000cc","#33dd33","#cc1f1f"]},"legend":{"legendX":30,"legendY":-7.5,"rowPadding":2,"labelExpr":"'Scenario'+datum.label"}}}}]},
{"bounds":"flush","spacing":48,
"resolve":{"scale":{"color":"independent"},"legend":{"color":"independent"}},
"vconcat":[
{"width":595,"height":92,
"title":{"text":"SOY returns with sGARCH(1,1)sst simulated scenarios","offset":-0.6},
"layer":[
{"data":{"name":"rh"},"mark":{"type":"line","color":"#000000","strokeWidth":0.8},
"encoding":{"x":{"field":"t","type":"quantitative","scale":{"domain":[2021.86,2025.233],"nice":false,"zero":false},"axis":{"values":[2022,2023,2024,2025],"tickCount":10,"format":"d","title":null}},
"y":{"field":"v","type":"quantitative","scale":{"domain":[-0.1014,0.1092],"nice":false,"zero":false},"axis":{"values":[-0.1,-0.05,0,0.05,0.1],"tickCount":10,"labelExpr":"replace(format(datum.value,'.2f'),'\u2212','-')","title":"SOY returns","titleX":-26,"titleBaseline":"middle"}}}},
{"data":{"name":"rs"},"mark":{"type":"line","strokeWidth":0.8},
"encoding":{"x":{"field":"t","type":"quantitative"},"y":{"field":"v","type":"quantitative"},
"color":{"field":"s","type":"nominal","scale":{"domain":[1,2,3],"range":["#0000cc","#33dd33","#cc1f1f"]},"legend":{"legendX":36,"legendY":-8,"rowPadding":1,"labelExpr":"'SimRet'+datum.label"}}}}]},
{"width":595,"height":96,
"title":{"text":"SOY volatility with sGARCH(1,1)sst simulated scenarios","offset":-2.6},
"layer":[
{"data":{"name":"vh"},"mark":{"type":"line","color":"#000000","strokeWidth":0.8},
"encoding":{"x":{"field":"t","type":"quantitative","scale":{"domain":[2021.86,2025.233],"nice":false,"zero":false},"axis":{"values":[2022,2023,2024,2025],"tickCount":10,"format":"d","title":null}},
"y":{"field":"v","type":"quantitative","scale":{"domain":[0.00769,0.05036],"nice":false,"zero":false},"axis":{"values":[0.01,0.02,0.03,0.04],"tickCount":10,"format":".2f","title":"SOY volatility","titleX":-27.5,"titleBaseline":"middle"}}}},
{"data":{"name":"vs"},"mark":{"type":"line","strokeWidth":0.8},
"encoding":{"x":{"field":"t","type":"quantitative"},"y":{"field":"v","type":"quantitative"},
"color":{"field":"s","type":"nominal","scale":{"domain":[1,2,3],"range":["#0000cc","#33dd33","#cc1f1f"]},"legend":{"legendX":34,"legendY":-5.2,"rowPadding":1.7,"labelExpr":"'SimVol'+datum.label"}}}}]}
]}
]
}
